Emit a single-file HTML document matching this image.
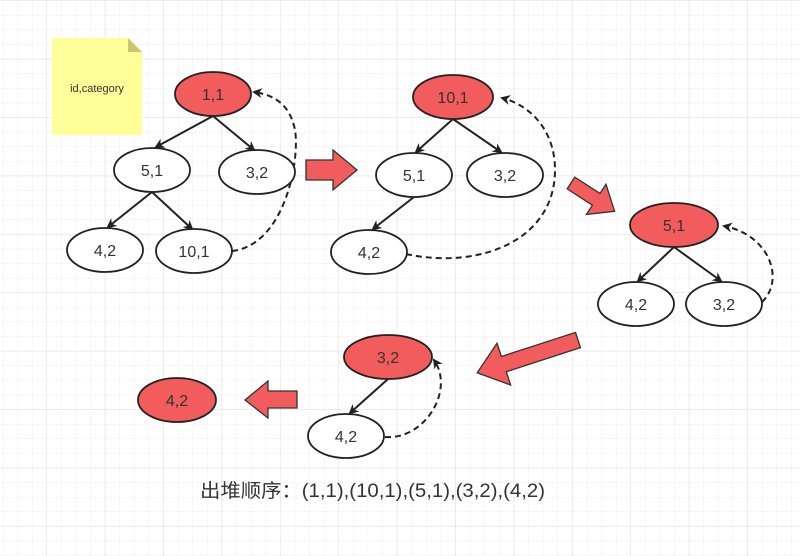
<!DOCTYPE html>
<html><head><meta charset="utf-8"><style>
html,body{margin:0;padding:0;background:#fff}
svg{display:block}
</style></head><body>
<svg width="800" height="556" xmlns="http://www.w3.org/2000/svg" font-family="Liberation Sans, Noto Sans CJK SC, sans-serif">
<defs>
<pattern id="g1" x="47" y="1" width="14.6" height="14.6" patternUnits="userSpaceOnUse"><path d="M14.6 0V14.6H0" fill="none" stroke="#efefef" stroke-width="1"/></pattern>
<pattern id="g2" x="47" y="1" width="58.4" height="58.4" patternUnits="userSpaceOnUse"><path d="M58.4 0V58.4H0" fill="none" stroke="#e2e2e2" stroke-width="1.2"/></pattern>
<marker id="a" markerWidth="10" markerHeight="10" refX="8" refY="5" orient="auto" markerUnits="userSpaceOnUse"><path d="M0,0 L10,5 L0,10 L3,5 Z" fill="#222"/></marker>
</defs>
<rect width="800" height="556" fill="url(#g1)"/>
<rect width="800" height="556" fill="url(#g2)"/>
<g stroke="#222" stroke-width="2" fill="none">
<line x1="213" y1="116" x2="156" y2="147" marker-end="url(#a)"/>
<line x1="213" y1="116" x2="254" y2="150" marker-end="url(#a)"/>
<line x1="152" y1="192" x2="108" y2="227" marker-end="url(#a)"/>
<line x1="152" y1="192" x2="192" y2="229" marker-end="url(#a)"/>
<path d="M232 251 C285 245 300 160 295 130 C290 105 275 95 254 92" stroke-dasharray="6,4" marker-end="url(#a)"/>
<line x1="453" y1="119" x2="416" y2="152" marker-end="url(#a)"/>
<line x1="453" y1="119" x2="501" y2="152" marker-end="url(#a)"/>
<line x1="414" y1="197" x2="373" y2="229" marker-end="url(#a)"/>
<path d="M406 254 C480 270 555 240 555 170 C555 130 530 105 502 98" stroke-dasharray="6,4" marker-end="url(#a)"/>
<line x1="674" y1="247" x2="638" y2="281" marker-end="url(#a)"/>
<line x1="674" y1="247" x2="721" y2="281" marker-end="url(#a)"/>
<path d="M762 302 C785 280 770 235 724 226" stroke-dasharray="6,4" marker-end="url(#a)"/>
<line x1="388" y1="379" x2="350" y2="413" marker-end="url(#a)"/>
<path d="M385 437 C425 440 455 390 434 360" stroke-dasharray="6,4" marker-end="url(#a)"/>
</g>
<path d="M52 38 H128 L142 52 V135 H52 Z" fill="#ffff99"/>
<path d="M128 38 L142 52 H128 Z" fill="#c8c86a"/>
<text x="97" y="92" font-size="11" fill="#333" text-anchor="middle">id,category</text>
<g fill="#f25c5c" stroke="#333" stroke-width="1.3">
<path d="M306 160 H333 V150 L357 170 L333 190 V180 H306 Z"/>
<path d="M297 391 H268 V381 L245 400 L268 418 V408 H297 Z"/>
<path transform="translate(571,183) rotate(33)" d="M0 -7 H30 V-18 L52 0 L30 18 V7 H0 Z"/>
<path transform="translate(578,340) rotate(162)" d="M0 -8 H78 V-22 L106 0 L78 22 V8 H0 Z"/>
</g>
<g stroke="#222" stroke-width="1.8" fill="#333">
<ellipse cx="213" cy="94" rx="38" ry="22" fill="#f25c5c"/>
<ellipse cx="152" cy="170" rx="38" ry="22" fill="#fff"/>
<ellipse cx="257" cy="172" rx="38" ry="22" fill="#fff"/>
<ellipse cx="105" cy="250" rx="38" ry="22" fill="#fff"/>
<ellipse cx="194" cy="251" rx="38" ry="22" fill="#fff"/>
<ellipse cx="453" cy="97" rx="40" ry="22" fill="#f25c5c"/>
<ellipse cx="414" cy="175" rx="38" ry="22" fill="#fff"/>
<ellipse cx="505" cy="175" rx="38" ry="22" fill="#fff"/>
<ellipse cx="369" cy="252" rx="38" ry="22" fill="#fff"/>
<ellipse cx="674" cy="225" rx="44" ry="22" fill="#f25c5c"/>
<ellipse cx="636" cy="304" rx="38" ry="22" fill="#fff"/>
<ellipse cx="724" cy="304" rx="38" ry="22" fill="#fff"/>
<ellipse cx="388" cy="357" rx="44" ry="22" fill="#f25c5c"/>
<ellipse cx="346" cy="436" rx="38" ry="22" fill="#fff"/>
<ellipse cx="177" cy="400" rx="39" ry="22" fill="#f25c5c"/>
</g>
<g font-size="16" text-anchor="middle" fill="#333">
<text x="213" y="100">1,1</text><text x="152" y="176">5,1</text><text x="257" y="178">3,2</text>
<text x="105" y="256">4,2</text><text x="194" y="257">10,1</text>
<text x="453" y="103">10,1</text><text x="414" y="181">5,1</text><text x="505" y="181">3,2</text><text x="369" y="258">4,2</text>
<text x="674" y="231">5,1</text><text x="636" y="310">4,2</text><text x="724" y="310">3,2</text>
<text x="388" y="363">3,2</text><text x="346" y="442">4,2</text><text x="177" y="406">4,2</text>
</g>
<text x="200" y="497" font-size="19" fill="#333" textLength="345" lengthAdjust="spacingAndGlyphs">出堆顺序：(1,1),(10,1),(5,1),(3,2),(4,2)</text>
</svg>
</body></html>
